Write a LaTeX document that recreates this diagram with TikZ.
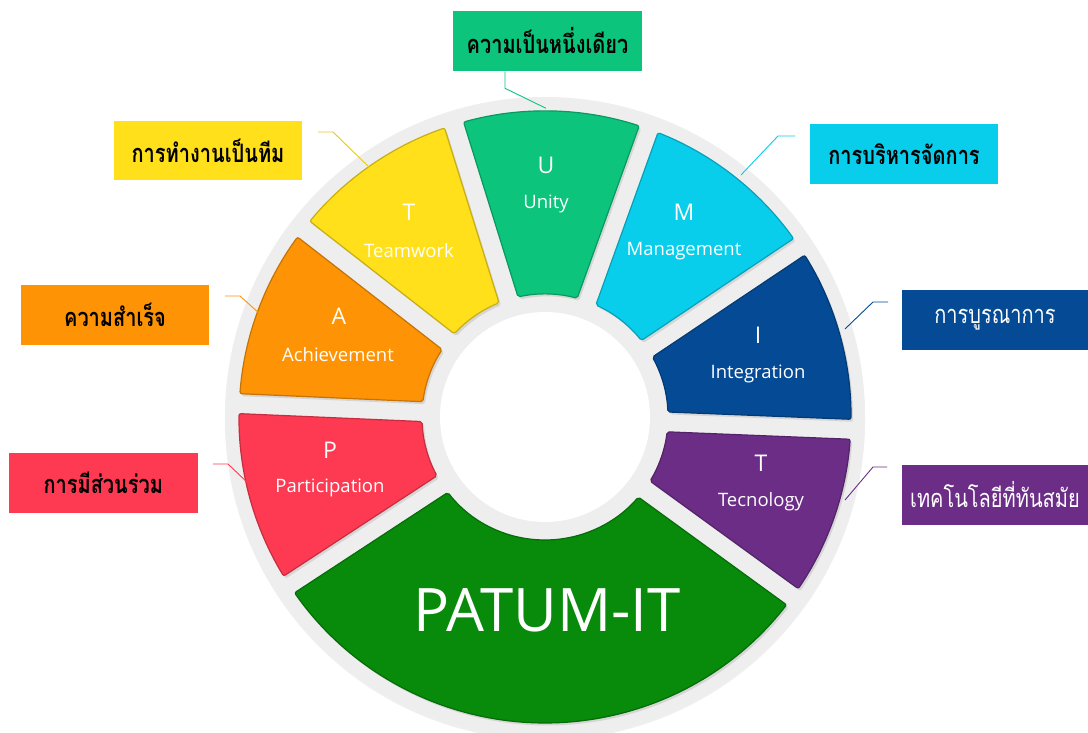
\documentclass[tikz,border=0pt]{standalone}
\usepackage{fontspec}
\usepackage{graphicx}
\setmainfont{Open Sans}
\newfontfamily\thaifont[Script=Thai]{Loma}
\usetikzlibrary{shadows}
\definecolor{cU}{RGB}{12,196,123}
\definecolor{cT}{RGB}{255,224,26}
\definecolor{cM}{RGB}{8,206,236}
\definecolor{cI}{RGB}{5,74,149}
\definecolor{cTe}{RGB}{107,45,134}
\definecolor{cG}{RGB}{8,138,11}
\definecolor{cP}{RGB}{254,58,82}
\definecolor{cA}{RGB}{254,147,6}
\definecolor{ringgray}{RGB}{238,238,238}
\newcommand\talltext[1]{\scalebox{1}[1.27]{#1}}
\tikzset{
  segstyle/.style={line width=1.2pt, rounded corners=2pt,
    drop shadow={opacity=0.22, shadow xshift=2pt, shadow yshift=-2.5pt}},
  letter/.style={text=white, font=\fontsize{23}{26}\selectfont, inner sep=0pt},
  word/.style={text=white, font=\fontsize{18.5}{21}\selectfont, inner sep=0pt},
  thaibox/.style={rectangle, inner sep=0pt, minimum height=60pt,
    font=\thaifont\bfseries\fontsize{20}{24}\selectfont, text=black},
  conn/.style={line width=0.9pt},
}
\newcommand\drawseg[3]{%
  \pgfmathsetmacro\segaO{#1-1.87}\pgfmathsetmacro\segbO{#2+1.87}%
  \pgfmathsetmacro\segaI{#1-4.63}\pgfmathsetmacro\segbI{#2+4.63}%
  \filldraw[segstyle, fill=#3, draw=#3!78!black]
    (\segaO:306pt) arc[start angle=\segaO, end angle=\segbO, radius=306pt]
    -- (\segbI:123pt) arc[start angle=\segbI, end angle=\segaI, radius=123pt]
    -- cycle;}
\begin{document}
\begin{tikzpicture}[x=1pt,y=1pt]
\useasboundingbox (0,0) rectangle (1088,733);
\fill[white] (0,0) rectangle (1088,733);

% ring
\begin{scope}[shift={(545,316)}]
  \fill[ringgray, drop shadow={opacity=0.12, shadow xshift=0pt, shadow yshift=-3pt}] (0,0) circle[radius=320pt];
  \fill[white] (0,0) circle[radius=105pt];
  \drawseg{107.3}{70.2}{cU}
  \drawseg{70.2}{33.8}{cM}
  \drawseg{33.8}{-2.3}{cI}
  \drawseg{-2.3}{-36}{cTe}
  \drawseg{-36}{-146.8}{cG}
  \drawseg{-146.8}{-182.5}{cP}
  \drawseg{177.5}{142.1}{cA}
  \drawseg{142.1}{107.3}{cT}
\end{scope}

% segment texts
\node[letter] (lU) at (546,568) {U};
\node[word]   (wU) at (546,529) {Unity};
\node[letter] (lT) at (409,521) {T};
\node[word]   (wT) at (409,482) {Teamwork};
\node[letter] (lM) at (684,521) {M};
\node[word]   (wM) at (684,482) {Management};
\node[letter] (lA) at (339,417) {A};
\node[word]   (wA) at (338,378) {Achievement};
\node[letter] (lI) at (758,398) {I};
\node[word]   (wI) at (758,359) {Integration};
\node[letter] (lP) at (330,283) {P};
\node[word]   (wP) at (330,245) {Participation};
\node[letter] (lTe) at (761,270) {T};
\node[word]   (wTe) at (761,231) {Tecnology};
\node[text=white, font=\fontsize{60}{66}\selectfont, inner sep=0pt] (main) at (547,123) {PATUM-IT};

% boxes
\node[thaibox, fill=cU, minimum width=189pt] (bU) at (547.5,692) {\talltext{ความเป็นหนึ่งเดียว}};
\node[thaibox, fill=cT, minimum width=188pt, minimum height=59pt] (bT) at (208,582.5) {\talltext{การทำงานเป็นทีม}};
\node[thaibox, fill=cM, minimum width=188pt] (bM) at (904,579) {\talltext{การบริหารจัดการ}};
\node[thaibox, fill=cA, minimum width=188pt] (bA) at (115,418) {\talltext{ความสำเร็จ}};
\node[thaibox, fill=cP, minimum width=189pt] (bP) at (103.3,250) {\talltext{การมีส่วนร่วม}};
\node[thaibox, fill=cI, minimum width=186pt, text=white, font=\thaifont\fontsize{20}{24}\selectfont] (bI) at (995,413) {\talltext{การบูรณาการ}};
\node[thaibox, fill=cTe, minimum width=186pt, text=white, font=\thaifont\fontsize{20}{24}\selectfont] (bTe) at (995,238) {\talltext{เทคโนโลยีที่ทันสมัย}};

% connector ends
\coordinate (sU) at (505,661.3);  \coordinate (eU) at (546,624.7);
\coordinate (sT) at (318,601);    \coordinate (eT) at (369,566);
\coordinate (sM) at (795,597);    \coordinate (eM) at (741,558);
\coordinate (sA) at (225,437);    \coordinate (eA) at (260,419);
\coordinate (sP) at (213,269);    \coordinate (eP) at (250,248);
\coordinate (sI) at (888,431);    \coordinate (eI) at (845,404);
\coordinate (sTe) at (887,266);   \coordinate (eTe) at (845,233);

\draw[conn, cU] (sU) -- ++(0,-16.6) -- (eU);
\draw[conn, cT!90!black] (sT) -- ++(15,0) -- (eT);
\draw[conn, cM] (sM) -- ++(-17,0) -- (eM);
\draw[conn, cA] (sA) -- ++(15,0) -- (eA);
\draw[conn, cP] (sP) -- ++(15,0) -- (eP);
\draw[conn, cI] (sI) -- ++(-15,0) -- (eI);
\draw[conn, cTe] (sTe) -- ++(-14,0) -- (eTe);
\end{tikzpicture}
\end{document}
